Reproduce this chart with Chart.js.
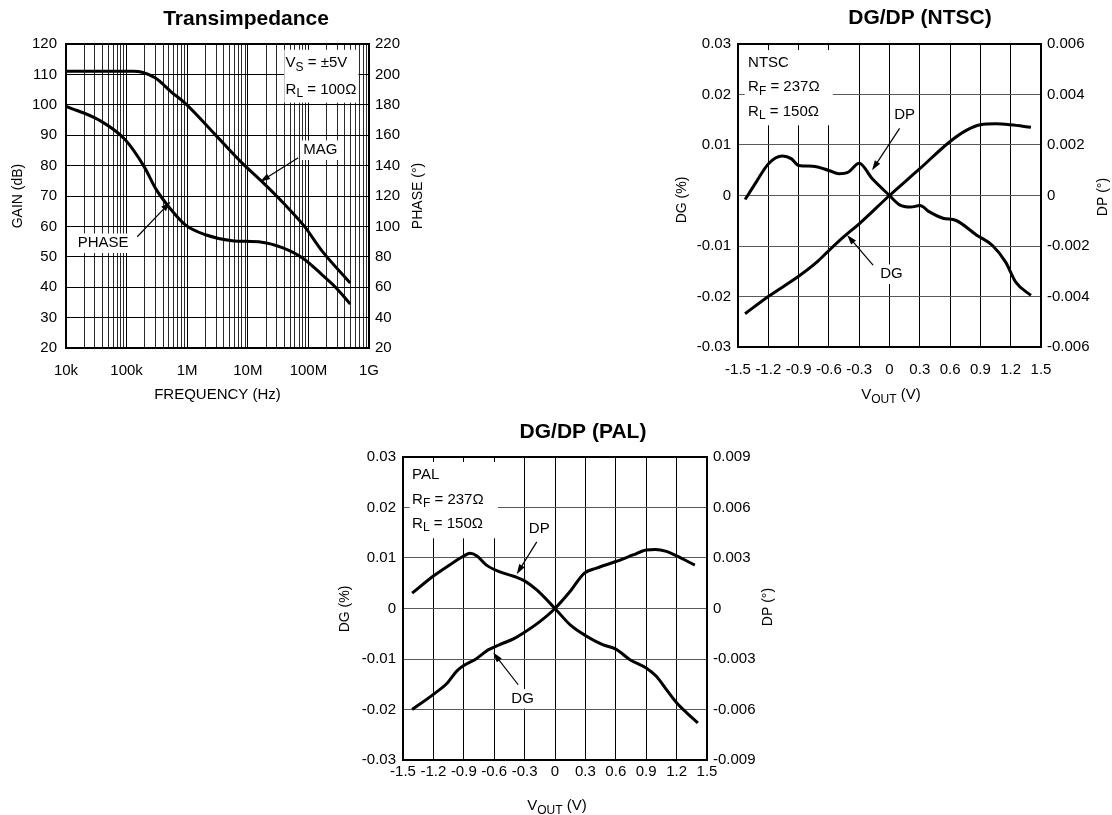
<!DOCTYPE html>
<html>
<head>
<meta charset="utf-8">
<title>Transimpedance, DG/DP</title>
<script src="https://cdn.jsdelivr.net/npm/chart.js@4.4.1/dist/chart.umd.min.js"></script>
<style>
  html, body { margin: 0; padding: 0; background: #fff; overflow: hidden; }
  body { width: 1112px; height: 815px; position: relative; }
  canvas { position: absolute; }
</style>
</head>
<body>
<canvas id="transimp" width="440" height="405" style="left:0px;top:0px"></canvas>
<canvas id="ntsc" width="447" height="405" style="left:665px;top:0px"></canvas>
<canvas id="pal" width="445" height="410" style="left:335px;top:405px"></canvas>
<script>
// values

// transimpedance
var freqDecades = [1e4, 1e5, 1e6, 1e7, 1e8, 1e9];
var freqLabels = ['10k', '100k', '1M', '10M', '100M', '1G'];
var gainTicks = [20, 30, 40, 50, 60, 70, 80, 90, 100, 110, 120];
var phaseTicks = [20, 40, 60, 80, 100, 120, 140, 160, 180, 200, 220];

var magFreq = [1e4, 1.3e5, 1.8e5, 3e5, 5.5e5, 9.3e5, 2.9e6, 8e6, 1.7e7, 3.9e7, 8.6e7, 1.7e8, 4.9e8];
var magGain = [111, 111, 110.7, 108.8, 104.2, 100.5, 90.2, 80.9, 74.8, 67.6, 60, 51.8, 41.4];

var phaseFreq = [1e4, 3.5e4, 9.5e4, 2e5, 3e5, 5.3e5, 9.3e5, 2e6, 5.5e6, 1.7e7, 3.7e7, 8e7, 1.7e8, 2.8e8, 4.9e8];
var phaseDeg = [179, 170, 157, 138.5, 125, 111.5, 101, 94.5, 90.6, 89.6, 86, 79.2, 68, 60, 49];

// DG / DP
var voutTicks = [-1.5, -1.2, -0.9, -0.6, -0.3, 0, 0.3, 0.6, 0.9, 1.2, 1.5];
var dgTicks = [-0.03, -0.02, -0.01, 0, 0.01, 0.02, 0.03];
var ntscDpTicks = [-0.006, -0.004, -0.002, 0, 0.002, 0.004, 0.006];
var palDpTicks = [-0.009, -0.006, -0.003, 0, 0.003, 0.006, 0.009];

var ntscDgV = [-1.43, -1.2, -0.9, -0.72, -0.6, -0.46, -0.3, 0, 0.3, 0.6, 0.76, 0.9, 1.05, 1.2, 1.4];
var ntscDg = [-0.0234, -0.0200, -0.0160, -0.0132, -0.0109, -0.0083, -0.0056, 0, 0.0053, 0.0107, 0.0129, 0.0140, 0.0142, 0.0140, 0.0135];

var ntscDpV = [-1.43, -1.32, -1.2, -1.06, -0.97, -0.9, -0.76, -0.6, -0.5, -0.41, -0.3, -0.17, 0, 0.1, 0.21, 0.3, 0.4, 0.53, 0.66, 0.86, 1.02, 1.15, 1.25, 1.4];
var ntscDp = [-0.00016, 0.00053, 0.00125, 0.00156, 0.00145, 0.00119, 0.00116, 0.00099, 0.00086, 0.00092, 0.00128, 0.00066, 0, -0.00037, -0.00046, -0.0004, -0.00066, -0.0009, -0.00099, -0.00156, -0.00198, -0.00264, -0.00343, -0.00396];

var palDgV = [-1.41, -1.2, -1.06, -0.97, -0.9, -0.78, -0.66, -0.55, -0.4, -0.3, -0.15, 0, 0.15, 0.29, 0.41, 0.6, 0.77, 0.9, 0.99, 1.1, 1.2, 1.38];
var palDg = [-0.0200, -0.0170, -0.0147, -0.0124, -0.0113, -0.0100, -0.0082, -0.0072, -0.0059, -0.0047, -0.0026, 0, 0.0034, 0.0070, 0.0080, 0.0093, 0.0106, 0.0116, 0.0117, 0.0113, 0.0104, 0.0086];

var palDpV = [-1.41, -1.2, -1.04, -0.9, -0.84, -0.77, -0.68, -0.55, -0.4, -0.3, -0.18, 0, 0.15, 0.3, 0.47, 0.6, 0.74, 0.9, 1.0, 1.1, 1.2, 1.3, 1.41];
var palDp = [0.00091, 0.00193, 0.00259, 0.00312, 0.00328, 0.00312, 0.00259, 0.00219, 0.0019, 0.00164, 0.0011, 0, -0.00097, -0.0016, -0.00215, -0.00241, -0.00304, -0.00353, -0.00403, -0.00482, -0.0056, -0.0062, -0.00679];

var FONT = '"Liberation Sans", Arial, Helvetica, sans-serif';

function pairs(xs, ys) {
    return xs.map(function (x, i) { return { x: x, y: ys[i] }; });
}

function logGrid() {
    var t = [];
    for (var i = 0; i < freqDecades.length - 1; i++) {
        for (var k = 1; k < 10; k++) t.push(freqDecades[i] * k);
    }
    t.push(freqDecades[freqDecades.length - 1]);
    return t;
}

// text with subscripts: parts = [[text, isSub], ...]
function drawParts(ctx, parts, x, y, size, align) {
    var sub = Math.round(size * 0.8);
    var w = textWidth(ctx, parts, size);
    var cx = align === 'center' ? x - w / 2 : x;
    ctx.textAlign = 'left';
    ctx.textBaseline = 'middle';
    parts.forEach(function (p) {
        ctx.font = (p[1] ? sub : size) + 'px ' + FONT;
        ctx.fillText(p[0], cx, p[1] ? y + size * 0.3 : y);
        cx += ctx.measureText(p[0]).width;
    });
    return w;
}

function textWidth(ctx, parts, size) {
    var w = 0;
    parts.forEach(function (p) {
        ctx.font = (p[1] ? Math.round(size * 0.8) : size) + 'px ' + FONT;
        w += ctx.measureText(p[0]).width;
    });
    return w;
}

function drawArrow(ctx, x0, y0, x1, y1) {
    var a = Math.atan2(y1 - y0, x1 - x0);
    var L = 10, W = 3.2;
    ctx.lineWidth = 1.2;
    ctx.beginPath();
    ctx.moveTo(x0, y0);
    ctx.lineTo(x1 - L * 0.8 * Math.cos(a), y1 - L * 0.8 * Math.sin(a));
    ctx.stroke();
    ctx.beginPath();
    ctx.moveTo(x1, y1);
    ctx.lineTo(x1 - L * Math.cos(a) + W * Math.sin(a), y1 - L * Math.sin(a) - W * Math.cos(a));
    ctx.lineTo(x1 - L * Math.cos(a) - W * Math.sin(a), y1 - L * Math.sin(a) + W * Math.cos(a));
    ctx.closePath();
    ctx.fill();
}

var decor = {
    id: 'decor',
    beforeDatasetsDraw: function (chart) {
        var o = chart.options.plugins.decor;
        var ctx = chart.ctx, sx = chart.scales.x, sy = chart.scales.y;
        ctx.save();
        (o.boxes || []).forEach(function (b) {
            var x0 = sx.getPixelForValue(b.x0), x1 = sx.getPixelForValue(b.x1);
            var y0 = sy.getPixelForValue(b.y0), y1 = sy.getPixelForValue(b.y1);
            ctx.fillStyle = '#fff';
            ctx.fillRect(x0, y0, x1 - x0, y1 - y0);
        });
        (o.notes || []).forEach(function (n) {
            var x = sx.getPixelForValue(n.x), y = sy.getPixelForValue(n.y);
            var size = 15;
            if (n.bg) {
                var w = textWidth(ctx, n.parts, size);
                var left = n.align === 'center' ? x - w / 2 : x;
                ctx.fillStyle = '#fff';
                ctx.fillRect(left - 3, y - size * 0.62, w + 6, size * 1.3);
            }
            ctx.fillStyle = '#000';
            drawParts(ctx, n.parts, x, y, size, n.align);
        });
        ctx.restore();
    },
    afterDatasetsDraw: function (chart) {
        var o = chart.options.plugins.decor;
        var ctx = chart.ctx, sx = chart.scales.x, sy = chart.scales.y;
        var a = chart.chartArea;
        ctx.save();
        ctx.strokeStyle = '#000';
        ctx.fillStyle = '#000';
        (o.arrows || []).forEach(function (r) {
            drawArrow(ctx, sx.getPixelForValue(r[0]), sy.getPixelForValue(r[1]),
                sx.getPixelForValue(r[2]), sy.getPixelForValue(r[3]));
        });
        ctx.lineWidth = 2;
        ctx.strokeRect(Math.round(a.left), Math.round(a.top),
            Math.round(a.right) - Math.round(a.left), Math.round(a.bottom) - Math.round(a.top));

        // chart title
        ctx.font = 'bold 21px ' + FONT;
        ctx.textAlign = 'center';
        ctx.textBaseline = 'middle';
        ctx.fillText(o.title.text, o.title.x, o.title.y);

        // axis titles
        drawParts(ctx, o.bottomTitle.parts, o.bottomTitle.x, o.bottomTitle.y, 15, 'center');
        [o.leftTitle, o.rightTitle].forEach(function (t) {
            ctx.save();
            ctx.translate(t.x, t.y);
            ctx.rotate(-Math.PI / 2);
            drawParts(ctx, [[t.text]], 0, 0, 14, 'center');
            ctx.restore();
        });
        ctx.restore();
    }
};

function fixedSize(size) {
    return function (scale) {
        if (scale.isHorizontal()) scale.height = size;
        else scale.width = size;
    };
}

function setTicks(values) {
    return function (scale) {
        scale.ticks = values.map(function (v) { return { value: v }; });
    };
}

function lineSet(data, axis) {
    return {
        data: data,
        yAxisID: axis,
        borderColor: '#000',
        borderWidth: 3,
        pointRadius: 0,
        fill: false,
        cubicInterpolationMode: 'monotone'
    };
}

var tickFont = { family: FONT, size: 15 };

Chart.defaults.color = '#000';

// Transimpedance
new Chart(document.getElementById('transimp'), {
    type: 'line',
    data: {
        datasets: [
            lineSet(pairs(magFreq, magGain), 'y'),
            lineSet(pairs(phaseFreq, phaseDeg), 'y1')
        ]
    },
    options: {
        responsive: false,
        animation: false,
        events: [],
        layout: { padding: { top: 44, left: 0, right: 0, bottom: 0 } },
        scales: {
            x: {
                type: 'logarithmic',
                min: 1e4, max: 1e9,
                afterBuildTicks: setTicks(logGrid()),
                afterFit: fixedSize(57),
                border: { display: false },
                grid: {
                    drawTicks: false,
                    color: function (c) {
                        return c.tick && freqDecades.indexOf(c.tick.value) >= 0 ? '#000' : '#2a2a2a';
                    }
                },
                ticks: {
                    autoSkip: false, maxRotation: 0, minRotation: 0, padding: 14, font: tickFont,
                    callback: function (v) {
                        var i = freqDecades.indexOf(v);
                        return i >= 0 ? freqLabels[i] : '';
                    }
                }
            },
            y: {
                position: 'left',
                min: 20, max: 120,
                afterBuildTicks: setTicks(gainTicks),
                afterFit: fixedSize(66),
                border: { display: false },
                grid: { drawTicks: false, color: '#000' },
                ticks: { padding: 9, font: tickFont, callback: function (v) { return String(v); } }
            },
            y1: {
                position: 'right',
                min: 20, max: 220,
                afterBuildTicks: setTicks(phaseTicks),
                afterFit: fixedSize(71),
                border: { display: false },
                grid: { display: false, drawTicks: false },
                ticks: { padding: 6, font: tickFont, callback: function (v) { return String(v); } }
            }
        },
        plugins: {
            legend: { display: false },
            tooltip: { enabled: false },
            decor: {
                title: { text: 'Transimpedance', x: 246, y: 19 },
                leftTitle: { text: 'GAIN (dB)', x: 18, y: 196 },
                rightTitle: { text: 'PHASE (°)', x: 418, y: 196 },
                bottomTitle: { parts: [['FREQUENCY (Hz)']], x: 217.5, y: 395 },
                boxes: [{ x0: 4.0e7, x1: 6.7e8, y0: 118.1, y1: 100.7 }],
                notes: [
                    { parts: [['V'], ['S', 1], [' = ±5V']], x: 4.2e7, y: 113.7, align: 'left' },
                    { parts: [['R'], ['L', 1], [' = 100Ω']], x: 4.2e7, y: 105, align: 'left' },
                    { parts: [['MAG']], x: 1.57e8, y: 85.2, align: 'center', bg: true },
                    { parts: [['PHASE']], x: 4.1e4, y: 54.6, align: 'center', bg: true }
                ],
                arrows: [
                    [6.8e7, 82.6, 1.6e7, 74.7],
                    [1.5e5, 56.6, 5.3e5, 68.1]
                ]
            }
        }
    },
    plugins: [decor]
});

function dgChart(id, dgV, dg, dpV, dp, dpTicks, sizes, decorOpts) {
    return new Chart(document.getElementById(id), {
        type: 'line',
        data: {
            datasets: [
                lineSet(pairs(dgV, dg), 'y'),
                lineSet(pairs(dpV, dp), 'y1')
            ]
        },
        options: {
            responsive: false,
            animation: false,
            events: [],
            layout: { padding: { top: sizes.top, left: 0, right: 0, bottom: 0 } },
            scales: {
                x: {
                    type: 'linear',
                    min: -1.5, max: 1.5,
                    afterBuildTicks: setTicks(voutTicks),
                    afterFit: fixedSize(sizes.bottom),
                    border: { display: false },
                    grid: { drawTicks: false, color: '#000' },
                    ticks: {
                        autoSkip: false, maxRotation: 0, minRotation: 0, padding: sizes.xPad, font: tickFont,
                        callback: function (v) { return String(v); }
                    }
                },
                y: {
                    position: 'left',
                    min: -0.03, max: 0.03,
                    afterBuildTicks: setTicks(dgTicks),
                    afterFit: fixedSize(sizes.left),
                    border: { display: false },
                    grid: { drawTicks: false, color: '#5a5a5a' },
                    ticks: { padding: 7, font: tickFont, callback: function (v) { return String(v); } }
                },
                y1: {
                    position: 'right',
                    min: dpTicks[0], max: dpTicks[dpTicks.length - 1],
                    afterBuildTicks: setTicks(dpTicks),
                    afterFit: fixedSize(sizes.right),
                    border: { display: false },
                    grid: { display: false, drawTicks: false },
                    ticks: { padding: 6, font: tickFont, callback: function (v) { return String(v); } }
                }
            },
            plugins: {
                legend: { display: false },
                tooltip: { enabled: false },
                decor: decorOpts
            }
        },
        plugins: [decor]
    });
}

dgChart('ntsc', ntscDgV, ntscDg, ntscDpV, ntscDp, ntscDpTicks,
    { top: 44, bottom: 58, left: 73, right: 71, xPad: 14 },
    {
        title: { text: 'DG/DP (NTSC)', x: 255, y: 18 },
        leftTitle: { text: 'DG (%)', x: 17, y: 200 },
        rightTitle: { text: 'DP (°)', x: 438, y: 197 },
        bottomTitle: { parts: [['V'], ['OUT', 1], [' (V)']], x: 226, y: 395 },
        boxes: [{ x0: -1.434, x1: -0.562, y0: 0.0288, y1: 0.0139 }],
        notes: [
            { parts: [['NTSC']], x: -1.40, y: 0.0262, align: 'left' },
            { parts: [['R'], ['F', 1], [' = 237Ω']], x: -1.40, y: 0.0215, align: 'left' },
            { parts: [['R'], ['L', 1], [' = 150Ω']], x: -1.40, y: 0.0166, align: 'left' },
            { parts: [['DP']], x: 0.15, y: 0.0159, align: 'center', bg: true },
            { parts: [['DG']], x: 0.02, y: -0.0155, align: 'center', bg: true }
        ],
        arrows: [
            [0.1, 0.0133, -0.173, 0.005],
            [-0.163, -0.0138, -0.42, -0.0078]
        ]
    });

dgChart('pal', palDgV, palDg, palDpV, palDp, palDpTicks,
    { top: 52, bottom: 55, left: 68, right: 73, xPad: 3 },
    {
        title: { text: 'DG/DP (PAL)', x: 248, y: 27 },
        leftTitle: { text: 'DG (%)', x: 10, y: 204 },
        rightTitle: { text: 'DP (°)', x: 433, y: 202 },
        bottomTitle: { parts: [['V'], ['OUT', 1], [' (V)']], x: 222, y: 401 },
        boxes: [{ x0: -1.434, x1: -0.563, y0: 0.029, y1: 0.0139 }],
        notes: [
            { parts: [['PAL']], x: -1.41, y: 0.0264, align: 'left' },
            { parts: [['R'], ['F', 1], [' = 237Ω']], x: -1.41, y: 0.0216, align: 'left' },
            { parts: [['R'], ['L', 1], [' = 150Ω']], x: -1.41, y: 0.0168, align: 'left' },
            { parts: [['DP']], x: -0.155, y: 0.0157, align: 'center', bg: true },
            { parts: [['DG']], x: -0.32, y: -0.0178, align: 'center', bg: true }
        ],
        arrows: [
            [-0.18, 0.0132, -0.378, 0.0068],
            [-0.363, -0.0151, -0.61, -0.0087]
        ]
    });
</script>
</body>
</html>
